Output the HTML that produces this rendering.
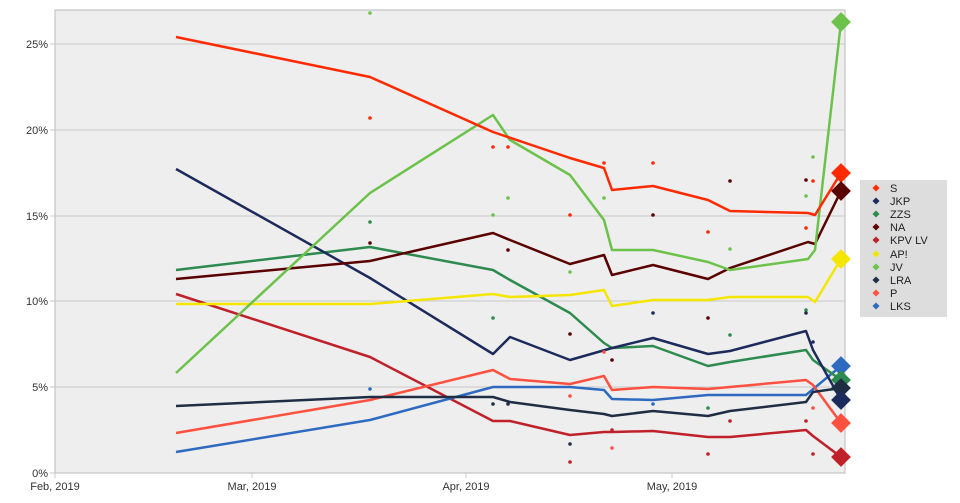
<!DOCTYPE html>
<html><head><meta charset="utf-8"><style>
body{margin:0;background:#fff}
svg{display:block;font-family:"Liberation Sans",sans-serif}
</style></head><body>
<svg width="960" height="503" viewBox="0 0 960 503">
<rect x="55" y="10" width="790" height="463" fill="#eeeeee" stroke="#bbb"/>
<g stroke="#c8c8c8" stroke-width="1">
<line x1="55" y1="387" x2="845" y2="387"/><line x1="55" y1="301" x2="845" y2="301"/>
<line x1="55" y1="216" x2="845" y2="216"/><line x1="55" y1="130" x2="845" y2="130"/>
<line x1="55" y1="44" x2="845" y2="44"/>
<line x1="55" y1="473" x2="55" y2="478"/><line x1="252" y1="473" x2="252" y2="478"/>
<line x1="466" y1="473" x2="466" y2="478"/><line x1="672" y1="473" x2="672" y2="478"/>
<line x1="50" y1="473" x2="55" y2="473"/><line x1="50" y1="387" x2="55" y2="387"/><line x1="50" y1="301" x2="55" y2="301"/><line x1="50" y1="216" x2="55" y2="216"/><line x1="50" y1="130" x2="55" y2="130"/><line x1="50" y1="44" x2="55" y2="44"/>
</g>
<g font-size="11" fill="#333" text-anchor="end">
<text x="48" y="477">0%</text><text x="48" y="391">5%</text><text x="48" y="305">10%</text><text x="48" y="220">15%</text><text x="48" y="134">20%</text><text x="48" y="48">25%</text>
</g>
<g font-size="11" fill="#333" text-anchor="middle">
<text x="55" y="490">Feb, 2019</text><text x="252" y="490">Mar, 2019</text><text x="466" y="490">Apr, 2019</text><text x="672" y="490">May, 2019</text>
</g>
<g fill="none" stroke-width="2.5" stroke-linejoin="round">
<polyline stroke="#c0202a" points="176,294 370,357 493,421 510,421 570,435 604,432 612,432 653,431 708,437 730,437 806,430 813,436 841,457"/>
<polyline stroke="#2e6bc0" points="176,452 370,420 493,387 510,387 570,387 604,390 612,399 653,400 708,395 730,395 806,395 841,366"/>
<polyline stroke="#ff5040" points="176,433 370,400 493,370 510,379 570,384 604,376 612,390 653,387 708,389 730,387 806,380 813,385 841,423"/>
<polyline stroke="#1f2d45" points="176,406 370,397 493,397 510,402 570,410 604,414 612,416 653,411 708,416 730,411 806,402 813,392 841,388"/>
<polyline stroke="#2e8b4f" points="176,270 370,247 493,270 510,280 570,313 604,343 612,348 653,346 708,366 730,362 806,350 813,360 841,380"/>
<polyline stroke="#1d2b5c" points="176,169 370,278 493,354 510,337 570,360 612,348 653,338 708,354 730,351 806,331 813,350 841,400"/>
<polyline stroke="#f5e600" points="176,304 370,304 493,294 510,297 570,295 604,290 612,306 653,300 708,300 730,297 808,297 815,302 841,259"/>
<polyline stroke="#5a0000" points="176,279 370,261 493,233 510,240 570,264 604,255 612,275 653,265 708,279 730,268 808,242 815,244 841,191"/>
<polyline stroke="#6cc24a" points="176,373 370,193 493,115 510,140 570,175 604,220 612,250 653,250 708,262 730,270 808,259 815,250 841,22"/>
<polyline stroke="#ff2a00" points="176,37 370,77 493,132 570,158 604,168 612,190 653,186 708,200 730,211 808,213 815,215 841,173"/>
</g>
<g>
<rect x="834" y="15" width="14" height="14" fill="#6cc24a" transform="rotate(45 841 22)"/>
<rect x="834" y="166" width="14" height="14" fill="#ff2a00" transform="rotate(45 841 173)"/>
<rect x="834" y="184" width="14" height="14" fill="#5a0000" transform="rotate(45 841 191)"/>
<rect x="834" y="252" width="14" height="14" fill="#f5e600" transform="rotate(45 841 259)"/>
<rect x="834" y="359" width="14" height="14" fill="#2e6bc0" transform="rotate(45 841 366)"/>
<rect x="834" y="373" width="14" height="14" fill="#2e8b4f" transform="rotate(45 841 380)"/>
<rect x="834" y="381" width="14" height="14" fill="#1f2d45" transform="rotate(45 841 388)"/>
<rect x="834" y="393" width="14" height="14" fill="#1d2b5c" transform="rotate(45 841 400)"/>
<rect x="834" y="416" width="14" height="14" fill="#ff5040" transform="rotate(45 841 423)"/>
<rect x="834" y="450" width="14" height="14" fill="#c0202a" transform="rotate(45 841 457)"/>
</g>
<g>
<circle cx="370" cy="13" r="1.8" fill="#6cc24a"/><circle cx="370" cy="118" r="1.8" fill="#ff2a00"/><circle cx="370" cy="222" r="1.8" fill="#2e8b4f"/><circle cx="370" cy="243" r="1.8" fill="#5a0000"/><circle cx="370" cy="389" r="1.8" fill="#2e6bc0"/>
<circle cx="493" cy="147" r="1.8" fill="#ff2a00"/><circle cx="508" cy="147" r="1.8" fill="#ff2a00"/><circle cx="493" cy="215" r="1.8" fill="#6cc24a"/><circle cx="508" cy="198" r="1.8" fill="#6cc24a"/><circle cx="493" cy="318" r="1.8" fill="#2e8b4f"/><circle cx="508" cy="250" r="1.8" fill="#5a0000"/><circle cx="493" cy="404" r="1.8" fill="#1f2d45"/><circle cx="508" cy="404" r="1.8" fill="#1f2d45"/>
<circle cx="570" cy="215" r="1.8" fill="#ff2a00"/><circle cx="570" cy="272" r="1.8" fill="#6cc24a"/><circle cx="570" cy="334" r="1.8" fill="#5a0000"/><circle cx="570" cy="396" r="1.8" fill="#ff5040"/><circle cx="570" cy="444" r="1.8" fill="#1f2d45"/><circle cx="570" cy="462" r="1.8" fill="#c0202a"/>
<circle cx="604" cy="163" r="1.8" fill="#ff2a00"/><circle cx="604" cy="198" r="1.8" fill="#6cc24a"/><circle cx="604" cy="352" r="1.8" fill="#ff5040"/><circle cx="612" cy="360" r="1.8" fill="#5a0000"/><circle cx="612" cy="430" r="1.8" fill="#c0202a"/><circle cx="612" cy="448" r="1.8" fill="#ff5040"/>
<circle cx="653" cy="163" r="1.8" fill="#ff2a00"/><circle cx="653" cy="215" r="1.8" fill="#5a0000"/><circle cx="653" cy="313" r="1.8" fill="#1d2b5c"/><circle cx="653" cy="404" r="1.8" fill="#2e6bc0"/>
<circle cx="708" cy="232" r="1.8" fill="#ff2a00"/><circle cx="708" cy="318" r="1.8" fill="#5a0000"/><circle cx="708" cy="408" r="1.8" fill="#2e8b4f"/><circle cx="708" cy="454" r="1.8" fill="#c0202a"/>
<circle cx="730" cy="181" r="1.8" fill="#5a0000"/><circle cx="730" cy="249" r="1.8" fill="#6cc24a"/><circle cx="730" cy="335" r="1.8" fill="#2e8b4f"/><circle cx="730" cy="421" r="1.8" fill="#c0202a"/>
<circle cx="806" cy="180" r="1.8" fill="#5a0000"/><circle cx="813" cy="181" r="1.8" fill="#ff2a00"/><circle cx="806" cy="196" r="1.8" fill="#6cc24a"/><circle cx="813" cy="157" r="1.8" fill="#6cc24a"/><circle cx="806" cy="228" r="1.8" fill="#ff2a00"/><circle cx="806" cy="310" r="1.8" fill="#2e8b4f"/><circle cx="806" cy="313" r="1.8" fill="#1f2d45"/><circle cx="813" cy="408" r="1.8" fill="#ff5040"/><circle cx="813" cy="454" r="1.8" fill="#c0202a"/><circle cx="813" cy="342" r="1.8" fill="#1d2b5c"/><circle cx="806" cy="421" r="1.8" fill="#c0202a"/>
</g>
<rect x="860" y="180" width="87" height="137" fill="#dddddd"/>
<g font-size="11" fill="#222">
<g transform="translate(876,188)"><rect x="-2.5" y="-2.5" width="5" height="5" fill="#ff2a00" transform="rotate(45)"/><text x="14" y="4">S</text></g>
<g transform="translate(876,201)"><rect x="-2.5" y="-2.5" width="5" height="5" fill="#1d2b5c" transform="rotate(45)"/><text x="14" y="4">JKP</text></g>
<g transform="translate(876,214)"><rect x="-2.5" y="-2.5" width="5" height="5" fill="#2e8b4f" transform="rotate(45)"/><text x="14" y="4">ZZS</text></g>
<g transform="translate(876,227)"><rect x="-2.5" y="-2.5" width="5" height="5" fill="#5a0000" transform="rotate(45)"/><text x="14" y="4">NA</text></g>
<g transform="translate(876,240)"><rect x="-2.5" y="-2.5" width="5" height="5" fill="#c0202a" transform="rotate(45)"/><text x="14" y="4">KPV LV</text></g>
<g transform="translate(876,254)"><rect x="-2.5" y="-2.5" width="5" height="5" fill="#f5e600" transform="rotate(45)"/><text x="14" y="4">AP!</text></g>
<g transform="translate(876,267)"><rect x="-2.5" y="-2.5" width="5" height="5" fill="#6cc24a" transform="rotate(45)"/><text x="14" y="4">JV</text></g>
<g transform="translate(876,280)"><rect x="-2.5" y="-2.5" width="5" height="5" fill="#1f2d45" transform="rotate(45)"/><text x="14" y="4">LRA</text></g>
<g transform="translate(876,293)"><rect x="-2.5" y="-2.5" width="5" height="5" fill="#ff5040" transform="rotate(45)"/><text x="14" y="4">P</text></g>
<g transform="translate(876,306)"><rect x="-2.5" y="-2.5" width="5" height="5" fill="#2e6bc0" transform="rotate(45)"/><text x="14" y="4">LKS</text></g>
</g>
</svg>
</body></html>
